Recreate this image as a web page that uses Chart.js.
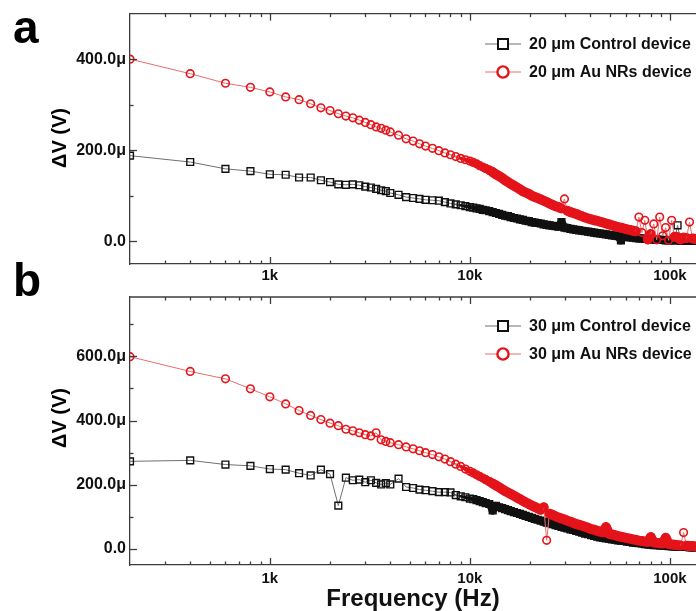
<!DOCTYPE html>
<html><head><meta charset="utf-8">
<script src="https://cdn.jsdelivr.net/npm/chart.js@4.4.1/dist/chart.umd.min.js"></script>
<style>
html,body{margin:0;padding:0;background:#fff;overflow:hidden;}
#wrap{position:relative;width:696px;height:611px;overflow:hidden;background:#fff;}
canvas{position:absolute;left:0;}
#ca{top:0;}
#cb{top:250px;}
</style></head><body>
<div id="wrap"><canvas id="ca" width="696" height="290"></canvas><canvas id="cb" width="696" height="361"></canvas></div>
<script>
// ---------- data (frequency in Hz, ΔV in μV) ----------
const freqHz = [200,400,600,800,1000,1200,1400,1600,1800,2000,2200,2400,2600,2800,3000,3200,3400,3600,3800,4000,
  4400,4800,5200,5600,6000,6500,7000,7500,8000,8500,9000,9500,
  10000,10400,10800,11200,11600,12000,12500,13000,13500,14000,14500,15000,15500,16000,16600,17200,17800,18400,19000,19700,
  20400,21100,21800,22600,23400,24200,25000,25900,26800,27700,28700,29700,30700,31800,32900,34000,35200,36400,37700,39000,
  40400,41800,43200,44700,46300,47900,49600,51300,53100,55000,56900,58900,61000,63100,65300,67600,70000,72400,74900,77500,
  80200,83000,85900,88900,92000,95200,98500,102000,105500,109200,113000,117000,121100,125300,129700,134200];

const ctrl20 = [188,174,159,154,147,146,140,140,134,130,125,124,125,123,120,118,115,112,110,106,
  102,97,95,93,91,90,89,86,83,81,79,77,
  75,74,72,71,69,68,66,64,62,60,58,56,55,53,51,50,48,47,45,44,
  42,41,40,39,37,36,35,34,33,32,42,30,29,27,26,25,24,23,22,21,
  20,19,18,17,16,15,14,13,12,11,2,10,9,9,8,7,6,6,5,5,
  4,4,3,3,3,2,2,2,2,35,1,1,1,1,1,1];

const auNR20 = [400,368,347,338,328,317,311,302,293,287,280,275,271,266,261,256,251,248,244,240,
  233,225,220,214,209,204,199,194,190,186,182,179,
  176,173,170,166,163,160,156,152,147,143,139,134,130,126,122,118,114,110,107,104,
  100,97,95,92,89,86,83,80,77,75,72,93,67,64,62,60,57,55,52,50,
  48,46,45,43,41,39,37,35,33,31,30,28,26,25,23,22,53,19,46,4,
  16,38,3,53,12,30,2,46,10,9,4,8,7,42,6,5];

const ctrl30 = [273,276,263,259,249,247,236,229,247,233,135,222,214,216,208,214,206,201,205,201,
  219,193,190,185,183,180,177,177,176,168,164,161,
  157,155,152,149,146,143,140,120,134,130,127,124,121,118,115,112,109,106,103,100,
  97,94,91,88,85,82,80,77,74,72,69,66,64,61,59,56,54,51,48,46,
  43,41,38,36,35,33,32,30,29,27,26,25,23,22,20,19,18,17,15,14,
  13,12,12,11,10,10,9,8,8,7,7,6,6,5,5,5];

const auNR30 = [599,553,530,499,474,452,431,416,403,392,384,373,368,362,356,352,362,340,335,331,
  325,318,312,306,300,294,287,280,272,264,257,249,
  242,237,231,226,221,216,210,204,198,192,186,180,176,171,166,160,155,150,145,140,
  135,131,127,122,130,27,110,106,102,98,95,92,88,85,81,78,75,72,69,66,
  62,60,57,54,52,68,47,45,43,40,38,36,34,32,30,28,26,25,23,22,
  37,20,19,18,17,35,15,14,13,12,11,51,10,9,9,8];

const xTickValues = [1000, 10000, 100000];
const xTickLabels = ['1k', '10k', '100k'];
const yTickValuesA = [0, 200, 400];
const yTickLabelsA = ['0.0', '200.0μ', '400.0μ'];
const yTickValuesB = [0, 200, 400, 600];
const yTickLabelsB = ['0.0', '200.0μ', '400.0μ', '600.0μ'];
const seriesLabelsA = ['20 μm Control device', '20 μm Au NRs device'];
const seriesLabelsB = ['30 μm Control device', '30 μm Au NRs device'];
const yTitleText = 'ΔV (V)';
const xTitleText = 'Frequency (Hz)';
const panelLetters = ['a', 'b'];

// ---------- style ----------
const FONT = "'Liberation Sans', Arial, Helvetica, sans-serif";
const AXIS = '#3c3c3c';
const RED = 'rgb(228,20,26)';
const RED_LINE = 'rgb(232,110,110)';
const BLK = '#111111';
const BLK_LINE = '#707070';
const BAND_START_HZ = 7500, BAND_FULL_HZ = 13000; // where the original markers merge into a solid band

function bandFactor(c) {
  if (Math.abs(c.p1.y - c.p0.y) >= 7 || Math.abs(c.p1.x - c.p0.x) >= 9) return 0;
  const f = c.p0.parsed.x;
  const t = (Math.log10(f) - Math.log10(BAND_START_HZ)) / (Math.log10(BAND_FULL_HZ) - Math.log10(BAND_START_HZ));
  return Math.max(0, Math.min(1, t));
}
function bandSegment(full, bandColor, thinColor) {
  return {
    borderWidth: c => { const k = bandFactor(c); return k > 0 ? Math.max(1, full * k) : 1; },
    borderColor: c => bandFactor(c) > 0.25 ? bandColor : thinColor
  };
}

const framePlugin = {
  id: 'frame',
  afterDraw(chart, args, o) {
    const {ctx, chartArea: a, scales: {x, y}} = chart;
    ctx.save();
    ctx.strokeStyle = AXIS;
    ctx.lineWidth = 1.3;
    const seg = (x1, y1, x2, y2) => { ctx.beginPath(); ctx.moveTo(x1, y1); ctx.lineTo(x2, y2); ctx.stroke(); };
    seg(a.left, a.top, a.right, a.top);
    x.ticks.forEach(t => {
      const v = t.value;
      const e = Math.floor(Math.log10(v) + 1e-9);
      const m = v / Math.pow(10, e);
      if (Math.abs(m - Math.round(m)) > 1e-6) return;
      const px = Math.round(x.getPixelForValue(v)) + 0.5;
      if (px <= a.left + 1 || px >= a.right) return;
      const len = Math.round(m) === 1 ? 7 : 3.5;
      seg(px, a.bottom, px, a.bottom - len);
      seg(px, a.top, px, a.top + len);
    });
    y.ticks.forEach(t => {
      const py = Math.round(y.getPixelForValue(t.value)) + 0.5;
      if (py < a.top + 1) return;
      const len = o.yMajor.includes(t.value) ? 7 : 3.5;
      seg(a.left, py, a.left + len, py);
    });
    chart.data.datasets.forEach((ds, i) => {
      const ly = o.legendY[i];
      ctx.strokeStyle = ds.borderColor; ctx.lineWidth = 1;
      seg(485, ly, 521, ly);
      ctx.strokeStyle = ds.pointBorderColor;
      ctx.fillStyle = '#fff';
      if (ds.pointStyle === 'rect') {
        ctx.lineWidth = 2;
        ctx.fillRect(498, ly - 5, 10, 10);
        ctx.strokeRect(498, ly - 5, 10, 10);
      } else {
        ctx.lineWidth = 2.4;
        ctx.beginPath(); ctx.arc(503, ly, 5.6, 0, Math.PI * 2); ctx.fill(); ctx.stroke();
      }
      ctx.fillStyle = BLK;
      ctx.font = 'bold 16px ' + FONT;
      ctx.textBaseline = 'middle';
      ctx.textAlign = 'left';
      ctx.fillText(ds.label, 529, ly + 1);
    });
    ctx.fillStyle = '#000';
    ctx.font = 'bold 46px ' + FONT;
    ctx.textBaseline = 'alphabetic';
    ctx.textAlign = 'left';
    ctx.fillText(o.letter, 13, o.letterY);
    ctx.save();
    ctx.translate(60, o.yTitleY);
    ctx.rotate(-Math.PI / 2);
    ctx.font = 'bold 20px ' + FONT;
    ctx.textAlign = 'center';
    ctx.textBaseline = 'middle';
    ctx.fillText(yTitleText, 0, 0);
    ctx.restore();
    ctx.restore();
  }
};

function makePanel(canvasId, p) {
  const pts = vals => vals.map((v, i) => ({x: freqHz[i], y: v}));
  return new Chart(document.getElementById(canvasId), {
    type: 'line',
    data: {
      datasets: [
        {label: p.labels[0], data: pts(p.ctrl), order: 1,
         borderColor: BLK_LINE, borderWidth: 1, tension: 0,
         borderCapStyle: 'round', borderJoinStyle: 'round',
         segment: bandSegment(8, BLK, BLK_LINE),
         pointStyle: 'rect', pointRadius: 4.8, pointBorderColor: BLK, pointBorderWidth: 1.4,
         pointBackgroundColor: 'rgba(255,255,255,0)'},
        {label: p.labels[1], data: pts(p.au), order: 0,
         borderColor: RED_LINE, borderWidth: 1, tension: 0,
         borderCapStyle: 'round', borderJoinStyle: 'round',
         segment: bandSegment(10, RED, RED_LINE),
         pointStyle: 'circle', pointRadius: 3.8, pointBorderColor: RED, pointBorderWidth: 1.6,
         pointBackgroundColor: 'rgba(255,255,255,0)'}
      ]
    },
    options: {
      responsive: false,
      animation: false,
      devicePixelRatio: 1,
      layout: {autoPadding: false, padding: {top: p.padTop, left: 0, right: 0, bottom: 0}},
      plugins: {
        legend: {display: false},
        tooltip: {enabled: false},
        frame: {letter: p.letter, letterY: p.letterY, yTitleY: p.yTitleY, legendY: p.legendY, yMajor: p.yVals}
      },
      scales: {
        x: {
          type: 'logarithmic', min: 200, max: 135000,
          grid: {display: false, drawTicks: false},
          border: {display: true, color: AXIS, width: 1.3},
          ticks: {
            autoSkip: false, maxRotation: 0, minRotation: 0, padding: p.xPad,
            color: BLK, font: {family: FONT, size: 15, weight: 'bold'},
            callback: v => { const i = xTickValues.indexOf(v); return i >= 0 ? xTickLabels[i] : ''; }
          },
          title: {display: p.showXTitle, text: xTitleText, color: BLK,
                  font: {family: FONT, size: 24, weight: 'bold', lineHeight: 1},
                  padding: {top: 0, bottom: 0}},
          afterFit: s => { s.height = p.xAxisH; s.paddingLeft = 0; s.paddingRight = 0; }
        },
        y: {
          type: 'linear', min: -50, max: p.yMax,
          grid: {display: false, drawTicks: false},
          border: {display: true, color: AXIS, width: 1.3},
          ticks: {
            stepSize: 100, includeBounds: false, padding: 4,
            color: BLK, font: {family: FONT, size: 16, weight: 'bold'},
            callback: v => { const i = p.yVals.indexOf(v); return i >= 0 ? p.yLabels[i] : ''; }
          },
          afterFit: s => { s.width = 130; }
        }
      }
    },
    plugins: [framePlugin]
  });
}

makePanel('ca', {
  ctrl: ctrl20, au: auNR20, labels: seriesLabelsA, yMax: 500,
  yVals: yTickValuesA, yLabels: yTickLabelsA, padTop: 12, xAxisH: 26, xPad: 3,
  showXTitle: false, letter: panelLetters[0], letterY: 43, yTitleY: 138, legendY: [44, 72]
});
makePanel('cb', {
  ctrl: ctrl30, au: auNR30, labels: seriesLabelsB, yMax: 785,
  yVals: yTickValuesB, yLabels: yTickLabelsB, padTop: 47, xAxisH: 46, xPad: 5,
  showXTitle: true, letter: panelLetters[1], letterY: 46, yTitleY: 168, legendY: [76, 104]
});
</script>
</body></html>
